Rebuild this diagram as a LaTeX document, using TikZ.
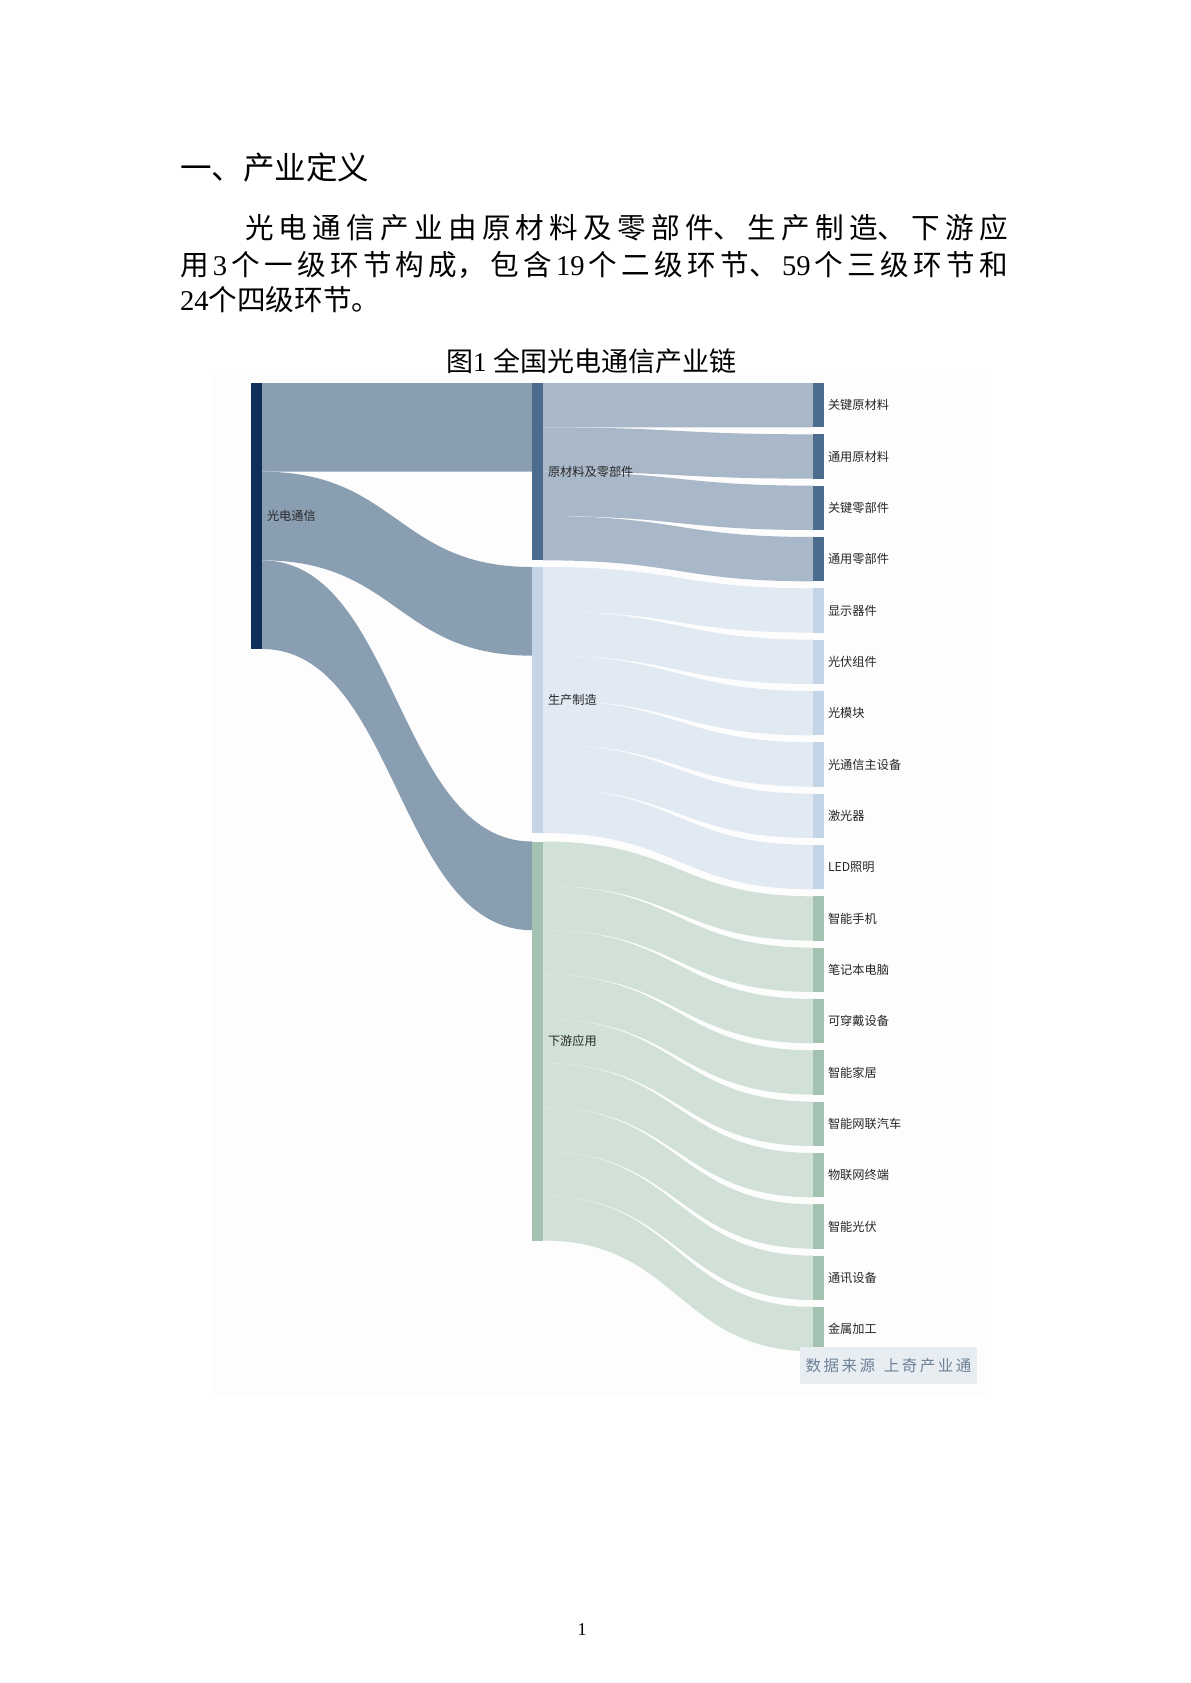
\documentclass[tikz,border=0pt]{standalone}
\usepackage{fontspec}
\setmainfont{Liberation Serif}
\newfontfamily\cjk{Noto Sans CJK SC}
\newcommand\jline[2]{\parbox{#1}{\XeTeXlinebreaklocale "zh"\XeTeXlinebreakskip=0pt plus 20pt\relax\parfillskip=0pt\relax\noindent #2}}
\newcommand\dg[1]{\hskip 0pt plus 20pt{\rmfamily #1}\hskip 0pt plus 20pt\relax}
\newcommand\sch[1]{\makebox[9pt][l]{#1}}
\definecolor{lnode}{HTML}{0F2E5C}
\definecolor{flowL}{HTML}{8A9EB2}
\definecolor{mAnode}{HTML}{4B6C8F}
\definecolor{mAflow}{HTML}{A8B8C9}
\definecolor{mBnode}{HTML}{C5D5E8}
\definecolor{mBflow}{HTML}{E1E9F3}
\definecolor{mCnode}{HTML}{A3C2B2}
\definecolor{mCflow}{HTML}{D1E1D8}
\definecolor{bgfaint}{HTML}{FDFDFD}
\definecolor{srcbg}{HTML}{E8EDF2}
\definecolor{srctext}{HTML}{6D8198}
\definecolor{lbltext}{HTML}{262626}
\newcommand\flow[7]{%
  \pgfmathsetmacro\xm{(#1+#4)/2}%
  \fill[#7] (#1,#2) .. controls (\xm,#2) and (\xm,#5) .. (#4,#5) -- (#4,#6) .. controls (\xm,#6) and (\xm,#3) .. (#1,#3) -- cycle;}
\begin{document}
\begin{tikzpicture}[x=0.5pt,y=-0.5pt,
  every node/.style={inner sep=0pt,outer sep=0pt},
  lbl/.style={anchor=west,text=lbltext,font=\cjk\fontsize{6.1}{7}\selectfont},
  body/.style={anchor=west,font=\cjk\fontsize{14.3}{17}\selectfont}]
\useasboundingbox (0,0) rectangle (1190,1683);
\fill[white] (0,0) rectangle (1190,1683);
% heading and paragraph
\node[anchor=west,font=\cjk\fontsize{15.75}{18}\selectfont] (head) at (180,167.5) {一、产业定义};
\node[body] (p1) at (245,227.5) {\jline{381.5pt}{光电通信产业由原材料及零部件、生产制造、下游应}};
\node[body] (p2) at (180,264.5) {\jline{414pt}{用\dg{3}个一级环节构成，包含\dg{19}个二级环节、\dg{59}个三级环节和}};
\node[body] (p3) at (180,300) {{\rmfamily 24}个四级环节。};
\node[anchor=west,font=\cjk\fontsize{13.5}{16}\selectfont] (title) at (446,361) {图{\rmfamily 1 }全国光电通信产业链};
% faint chart background
\fill[bgfaint] (213,375) rectangle (985,1396);
% flows: level 1 -> level 2
\flow{262}{383}{471.67}{532}{383}{471.67}{flowL}
\flow{262}{471.67}{560.33}{532}{567}{655.67}{flowL}
\flow{262}{560.33}{649}{532}{841.5}{930.17}{flowL}
% flows: level 2 -> level 3
\foreach \k in {0,...,3}{
  \pgfmathsetmacro\ao{383+\k*44.33}\pgfmathsetmacro\ai{\ao+44.33}
  \pgfmathsetmacro\bo{383+\k*51.33}\pgfmathsetmacro\bi{\bo+44.33}
  \flow{543}{\ao}{\ai}{813}{\bo}{\bi}{mAflow}
}
\foreach \k in {0,...,5}{
  \pgfmathsetmacro\ao{567+\k*44.33}\pgfmathsetmacro\ai{\ao+44.33}
  \pgfmathsetmacro\bo{383+(4+\k)*51.33}\pgfmathsetmacro\bi{\bo+44.33}
  \flow{543}{\ao}{\ai}{813}{\bo}{\bi}{mBflow}
}
\foreach \k in {0,...,8}{
  \pgfmathsetmacro\ao{841.5+\k*44.33}\pgfmathsetmacro\ai{\ao+44.33}
  \pgfmathsetmacro\bo{383+(10+\k)*51.33}\pgfmathsetmacro\bi{\bo+44.33}
  \flow{543}{\ao}{\ai}{813}{\bo}{\bi}{mCflow}
}
% bars
\fill[lnode] (251,383) rectangle (262,649);
\fill[mAnode] (532,383) rectangle (543,560.33);
\fill[mBnode] (532,567) rectangle (543,833);
\fill[mCnode] (532,841.5) rectangle (543,1240.5);
\foreach \i in {0,...,18}{
  \pgfmathsetmacro\bo{383+\i*51.33}\pgfmathsetmacro\bi{\bo+44.33}
  \ifnum\i<4 \def\bc{mAnode}\else\ifnum\i<10 \def\bc{mBnode}\else\def\bc{mCnode}\fi\fi
  \fill[\bc] (813,\bo) rectangle (824,\bi);
}
% labels
\node[lbl] (n0) at (267,516) {光电通信};
\node[lbl] (nA) at (548,472) {原材料及零部件};
\node[lbl] (nB) at (548,700) {生产制造};
\node[lbl] (nC) at (548,1041) {下游应用};
\foreach \t [count=\i from 0] in {关键原材料,通用原材料,关键零部件,通用零部件,显示器件,光伏组件,光模块,光通信主设备,激光器,LED照明,智能手机,笔记本电脑,可穿戴设备,智能家居,智能网联汽车,物联网终端,智能光伏,通讯设备,金属加工}{
  \pgfmathsetmacro\yc{383+\i*51.33+22.17}
  \node[lbl] (r\i) at (828,\yc) {\t};
}
% source box
\node[fill=srcbg,minimum width=88.5pt,minimum height=18.5pt,text=srctext,font=\cjk\fontsize{7.75}{9}\selectfont] (src) at (888.5,1365.5) {\sch{数}\sch{据}\sch{来}\sch{源}\hspace{3.2pt}\sch{上}\sch{奇}\sch{产}\sch{业}\makebox[7.75pt][l]{通}};
% page number
\node[font=\fontsize{9}{11}\selectfont] (pg) at (582,1630) {1};
\end{tikzpicture}
\end{document}
